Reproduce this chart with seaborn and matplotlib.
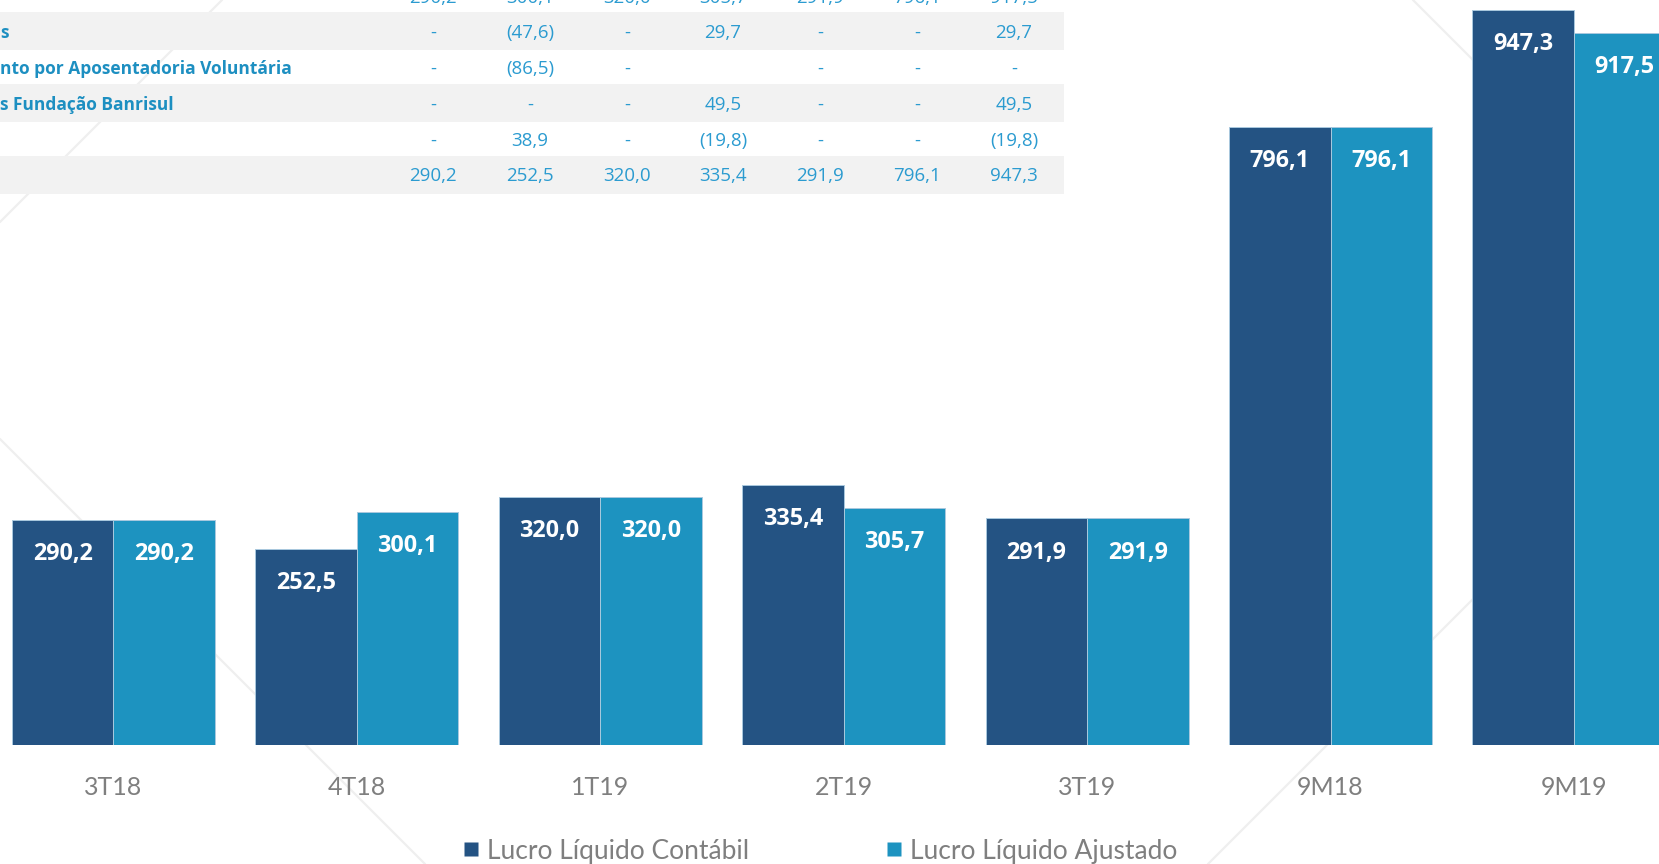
import matplotlib
matplotlib.use("Agg")
import matplotlib.pyplot as plt
import seaborn as sns
import pandas as pd
from matplotlib.lines import Line2D
from matplotlib.patches import Rectangle
from matplotlib.font_manager import FontProperties

# ---------------- data ----------------
periodos = ["3T18", "4T18", "1T19", "2T19", "3T19", "9M18", "9M19"]
lucro_contabil = [290.2, 252.5, 320.0, 335.4, 291.9, 796.1, 947.3]
lucro_ajustado = [290.2, 300.1, 320.0, 305.7, 291.9, 796.1, 917.5]
series = ["Lucro Líquido Contábil", "Lucro Líquido Ajustado"]
cores = ["#245383", "#1d93c0"]

tabela_rotulos = ["", "s", "nto por Aposentadoria Voluntária", "s Fundação Banrisul", "", ""]
tabela_linha0 = ["290,2", "300,1", "320,0", "305,7", "291,9", "796,1", "917,5"]
tabela_linha1 = ["-", "(47,6)", "-", "29,7", "-", "-", "29,7"]
tabela_linha2 = ["-", "(86,5)", "-", "", "-", "-", "-"]
tabela_linha3 = ["-", "-", "-", "49,5", "-", "-", "49,5"]
tabela_linha4 = ["-", "38,9", "-", "(19,8)", "-", "-", "(19,8)"]
tabela_linha5 = ["290,2", "252,5", "320,0", "335,4", "291,9", "796,1", "947,3"]
tabela_linhas = [tabela_linha0, tabela_linha1, tabela_linha2,
                 tabela_linha3, tabela_linha4, tabela_linha5]

# ---------------- figure ----------------
W, H = 1659, 864
sns.set_theme(style="white")
plt.rcParams["font.family"] = ["Lato", "DejaVu Sans"]

fig = plt.figure(figsize=(W / 100, H / 100), dpi=100)
fig.patch.set_facecolor("white")


def fx(x):
    return x / W


def fy(y):
    return 1 - y / H


# faint decorative background lines
bg_lines = [((0, 222), (222, 0)),
            ((0, 439), (425, 864)),
            ((1413, 0), (1659, 246)),
            ((1659, 413), (1208, 864))]
for (x0, y0), (x1, y1) in bg_lines:
    fig.add_artist(Line2D([fx(x0), fx(x1)], [fy(y0), fy(y1)],
                          transform=fig.transFigure, color="#efefef",
                          lw=1.6, zorder=-2))

# main bar axes
base_y = 745
ax = fig.add_axes([0, (H - base_y) / H, 1, base_y / H])
ax.set_facecolor("none")

df = pd.DataFrame({
    "periodo": periodos * 2,
    "valor": lucro_contabil + lucro_ajustado,
    "serie": [series[0]] * len(periodos) + [series[1]] * len(periodos),
})

sns.barplot(data=df, x="periodo", y="valor", hue="serie", order=periodos,
            hue_order=series, palette=cores, width=0.834, saturation=1,
            edgecolor="#a9c9de", linewidth=0.7, legend=False, ax=ax)

ax.set_xlim(-0.4663, 6.3496)
ax.set_ylim(0, 960)
ax.set_yticks([])
ax.set_xlabel("")
ax.set_ylabel("")
sns.despine(ax=ax, left=True, bottom=True)
ax.tick_params(axis="x", length=0, pad=22, labelsize=18, labelcolor="#7f7f7f")
for lab in ax.get_xticklabels():
    lab.set_fontfamily(["Lato", "DejaVu Sans"])


def fmt(v):
    return f"{v:.1f}".replace(".", ",")


for cont, vals in zip(ax.containers, [lucro_contabil, lucro_ajustado]):
    for bar, v in zip(cont, vals):
        ax.annotate(fmt(v), (bar.get_x() + bar.get_width() / 2, bar.get_height()),
                    xytext=(0, -24.5), textcoords="offset points",
                    ha="center", va="center", color="white",
                    fontsize=16.8, fontweight="bold",
                    family=["Open Sans", "DejaVu Sans"])

# legend
handles = [Line2D([], [], marker="s", linestyle="none", markersize=10,
                  markerfacecolor=c, markeredgecolor="none") for c in cores]
fig.legend(handles, series, loc="center",
           bbox_to_anchor=(fx(820.5), fy(851)), ncol=2, frameon=False,
           prop=FontProperties(family=["Lato", "DejaVu Sans"], size=19),
           labelcolor="#7f7f7f", handlelength=0.6, handletextpad=0.3,
           columnspacing=5.2, borderpad=0, borderaxespad=0)

# table overlay at top
band_color = "#f2f2f2"
for top, bot in [(12, 50), (84, 122), (156, 194)]:
    fig.add_artist(Rectangle((0, fy(bot)), fx(1064), (bot - top) / H,
                             transform=fig.transFigure, facecolor=band_color,
                             edgecolor="none", zorder=-1))

col_x = [433, 530, 627, 723, 820, 917, 1014]
row_y = [-2, 33, 69, 105, 141, 176]
for r, (rot, linha) in enumerate(zip(tabela_rotulos, tabela_linhas)):
    if rot:
        fig.text(fx(0), fy(row_y[r]), rot, ha="left", va="center",
                 fontsize=12.5, fontweight="bold", color="#1d8fc1",
                 family=["Open Sans", "DejaVu Sans"])
    for cx, val in zip(col_x, linha):
        if val:
            fig.text(fx(cx), fy(row_y[r]), val, ha="center", va="center",
                     fontsize=13.5, color="#2b9bd0",
                     family=["Open Sans", "DejaVu Sans"])

fig.savefig("out.png", dpi=100, facecolor="white")
